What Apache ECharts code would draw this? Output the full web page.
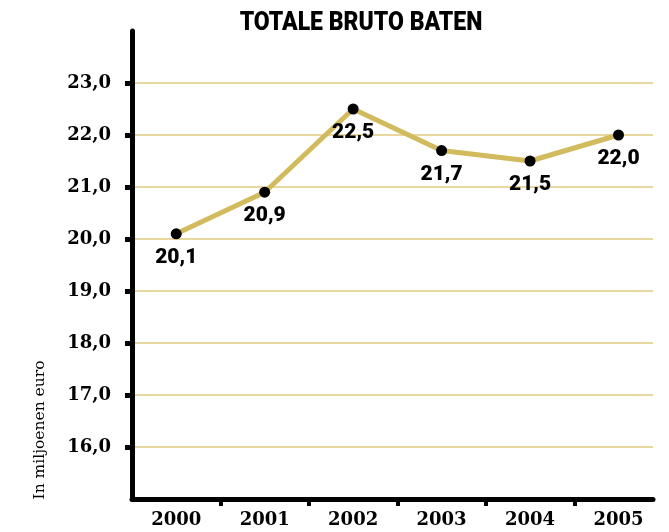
<!DOCTYPE html>
<html>
<head>
<meta charset="utf-8">
<script src="https://cdn.jsdelivr.net/npm/echarts@6/dist/echarts.min.js"></script>
<style>
html,body{margin:0;padding:0;background:#fff;}
#chart{width:669px;height:532px;}
</style>
</head>
<body>
<div id="chart"></div>
<script>
const titleText = 'TOTALE BRUTO BATEN';
const yAxisName = 'In miljoenen euro';
const years = ['2000', '2001', '2002', '2003', '2004', '2005'];
const values = [20.1, 20.9, 22.5, 21.7, 21.5, 22.0];
const yTickValues = [16, 17, 18, 19, 20, 21, 22, 23];

const fmt = v => Number(v).toFixed(1).replace('.', ',');
const xIdx = years.map((_, i) => i);
const xTickPos = years.slice(1).map((_, i) => i + 0.5);

const chart = echarts.init(document.getElementById('chart'));
chart.setOption({
  animation: false,
  backgroundColor: '#fff',
  graphic: [
    {
      type: 'text', x: 361, y: 24, scaleX: 0.92, originX: 0, originY: 0,
      style: { text: titleText, font: '900 25px Roboto', fill: '#000', align: 'center', verticalAlign: 'middle' }
    },
    {
      type: 'text', x: 40, y: 430, rotation: Math.PI / 2,
      style: { text: yAxisName, font: '15.5px "DejaVu Serif"', fill: '#000', align: 'center', verticalAlign: 'middle' }
    }
  ],
  grid: { left: 132, top: 31, width: 521, height: 468, containLabel: false },
  xAxis: {
    type: 'value', min: -0.5, max: 5.39,
    splitLine: { show: false },
    axisLine: { show: true, onZero: false, lineStyle: { color: '#000', width: 5 } },
    axisTick: { show: true, customValues: xTickPos, length: 7, lineStyle: { color: '#000', width: 4 } },
    axisLabel: {
      customValues: xIdx, formatter: v => years[Math.round(v)] || '',
      color: '#000', fontFamily: 'DejaVu Serif', fontWeight: 'bold', fontSize: 18, margin: 12
    }
  },
  yAxis: {
    type: 'value', min: 15, max: 24, interval: 1,
    axisLine: { show: true, onZero: false, lineStyle: { color: '#000', width: 5 } },
    axisTick: { show: true, customValues: yTickValues, length: 7, lineStyle: { color: '#000', width: 5 } },
    axisLabel: {
      customValues: yTickValues, formatter: v => fmt(v),
      color: '#000', fontFamily: 'DejaVu Serif', fontWeight: 'bold', fontSize: 18, margin: 21
    },
    splitLine: { show: true, lineStyle: { color: '#e0cb80', width: 1.5 } }
  },
  series: [{
    type: 'line',
    data: values.map((v, i) => [i, v]),
    lineStyle: { color: '#d1bb5e', width: 5 },
    symbol: 'circle', symbolSize: 11,
    itemStyle: { color: '#000' },
    label: {
      show: true, position: 'bottom', distance: 8,
      formatter: p => fmt(p.value[1]),
      color: '#000', fontFamily: 'Roboto', fontWeight: 900, fontSize: 21
    }
  }]
});
</script>
</body>
</html>
